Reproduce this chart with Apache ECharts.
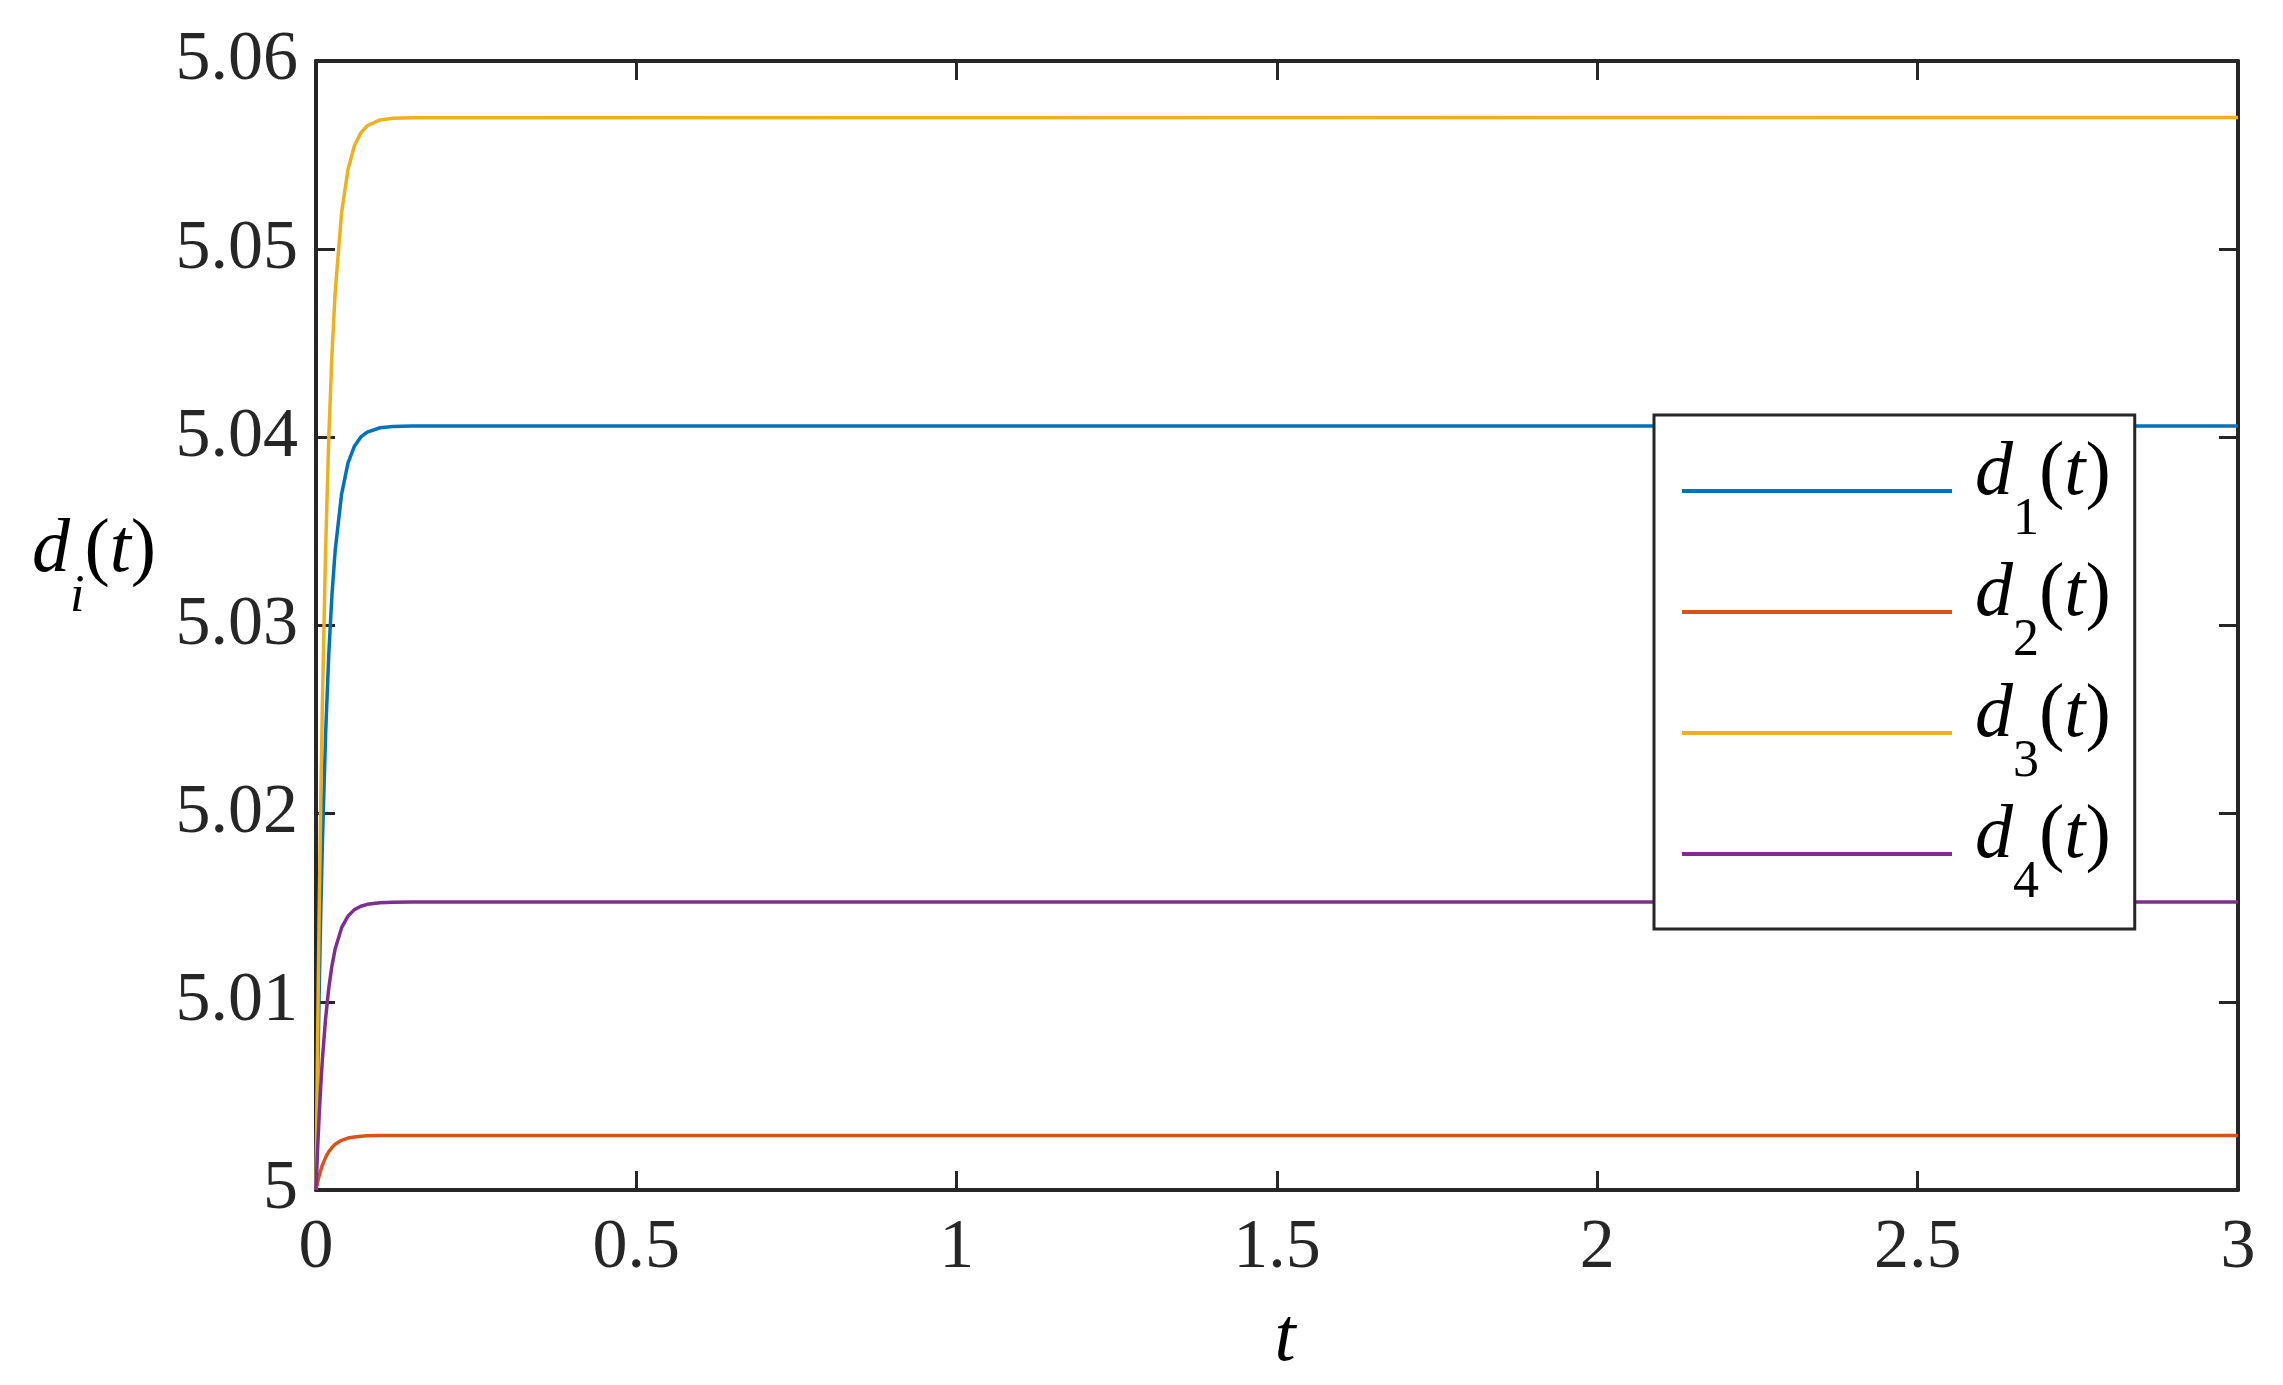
<!DOCTYPE html>
<html>
<head>
<meta charset="utf-8">
<script src="https://cdn.jsdelivr.net/npm/echarts@6/dist/echarts.min.js"></script>
<style>
html,body{margin:0;padding:0;background:#fff;}
#chart{width:2283px;height:1385px;}
</style>
</head>
<body>
<div id="chart"></div>
<script>
// time samples (t)
const tValues = [0, 0.0025, 0.005, 0.0075, 0.01, 0.015, 0.02, 0.025, 0.03, 0.04, 0.05, 0.06, 0.07, 0.08, 0.1, 0.12, 0.15, 3];
// d1(t)
const d1 = [5.0000, 5.00571, 5.01061, 5.01482, 5.01845, 5.02424, 5.02852, 5.03168, 5.03401, 5.03700, 5.03864, 5.03953, 5.04002, 5.04028, 5.04051, 5.04057, 5.04060, 5.0406];
// d2(t)
const d2 = [5.0000, 5.00041, 5.00076, 5.00106, 5.00132, 5.00173, 5.00204, 5.00226, 5.00243, 5.00264, 5.00276, 5.00282, 5.00286, 5.00288, 5.00289, 5.0029, 5.0029, 5.0029];
// d3(t)
const d3 = [5.0000, 5.00801, 5.0149, 5.02081, 5.02591, 5.03403, 5.04004, 5.04447, 5.04775, 5.05195, 5.05425, 5.0555, 5.05618, 5.05656, 5.05687, 5.05696, 5.05699, 5.057];
// d4(t)
const d4 = [5.0000, 5.00215, 5.004, 5.00558, 5.00695, 5.00913, 5.01075, 5.01194, 5.01282, 5.01394, 5.01456, 5.0149, 5.01508, 5.01518, 5.01526, 5.01529, 5.0153, 5.0153];

const seriesNames = ['d1', 'd2', 'd3', 'd4'];
const seriesSubs = ['1', '2', '3', '4'];
const seriesColors = ['#0072BD', '#D95319', '#EDB120', '#7E2F8E'];
const xTicks = [0, 0.5, 1, 1.5, 2, 2.5, 3];
const yTicks = [5, 5.01, 5.02, 5.03, 5.04, 5.05, 5.06];

const FONT = 'Liberation Serif';
const AXC = '#262626';
const FS = 70;   // tick labels
const LFS = 76;  // legend / axis names
const SFS = 52;  // subscripts

const chart = echarts.init(document.getElementById('chart'), null, {renderer: 'canvas'});

const allSeries = [d1, d2, d3, d4];
const series = allSeries.map((arr, k) => ({
  name: seriesNames[k],
  type: 'line',
  xAxisIndex: 0,
  yAxisIndex: 0,
  symbol: 'none',
  showSymbol: false,
  smooth: false,
  animation: false,
  lineStyle: {width: 3.5, color: seriesColors[k]},
  itemStyle: {color: seriesColors[k]},
  data: tValues.map((t, i) => [t, arr[i]])
}));

const richLabel = {
  it: {fontFamily: FONT, fontStyle: 'italic', fontSize: LFS, color: '#000', lineHeight: 110, verticalAlign: 'top'},
  itd: {fontFamily: FONT, fontStyle: 'italic', fontSize: LFS, color: '#000', lineHeight: 110, verticalAlign: 'top', padding: [0, 0, 0, 18]},
  n: {fontFamily: FONT, fontSize: LFS, color: '#000', lineHeight: 110, verticalAlign: 'top'},
  s: {fontFamily: FONT, fontSize: SFS, color: '#000', lineHeight: 44, verticalAlign: 'bottom'},
  si: {fontFamily: FONT, fontStyle: 'italic', fontSize: SFS, color: '#000', lineHeight: 40, verticalAlign: 'bottom'}
};

const option = {
  backgroundColor: '#fff',
  animation: false,
  grid: {left: 316, right: 45, top: 61, bottom: 195, containLabel: false},
  xAxis: [{
    type: 'value', position: 'bottom', min: 0, max: 3, interval: 0.5,
    axisLine: {show: true, onZero: false, lineStyle: {color: AXC, width: 4}},
    axisTick: {show: true, inside: true, length: 19, lineStyle: {color: AXC, width: 3}},
    axisLabel: {show: true, margin: 24, fontFamily: FONT, fontSize: FS, color: AXC,
      formatter: v => String(Math.round(v * 10) / 10)},
    splitLine: {show: false},
    name: 't', nameLocation: 'middle', nameGap: 112,
    nameTextStyle: {fontFamily: FONT, fontStyle: 'italic', fontSize: LFS, color: '#000', padding: [0, 0, 0, 16]}
  }, {
    type: 'value', position: 'top', min: 0, max: 3, interval: 0.5,
    axisLine: {show: true, onZero: false, lineStyle: {color: AXC, width: 4}},
    axisTick: {show: true, inside: true, length: 19, lineStyle: {color: AXC, width: 3}},
    axisLabel: {show: false}, splitLine: {show: false}
  }],
  yAxis: [{
    type: 'value', position: 'left', min: 5, max: 5.06, interval: 0.01,
    axisLine: {show: true, onZero: false, lineStyle: {color: AXC, width: 4}},
    axisTick: {show: true, inside: true, length: 19, lineStyle: {color: AXC, width: 3}},
    axisLabel: {show: true, margin: 18, fontFamily: FONT, fontSize: FS, color: AXC,
      formatter: v => String(Math.round(v * 100) / 100)},
    splitLine: {show: false}
  }, {
    type: 'value', position: 'right', min: 5, max: 5.06, interval: 0.01,
    axisLine: {show: true, onZero: false, lineStyle: {color: AXC, width: 4}},
    axisTick: {show: true, inside: true, length: 19, lineStyle: {color: AXC, width: 3}},
    axisLabel: {show: false}, splitLine: {show: false}
  }],
  legend: {
    show: true,
    orient: 'vertical',
    left: 1654,
    top: 415,
    padding: [21, 24, 20, 28],
    itemGap: 11,
    itemWidth: 270,
    itemHeight: 4,
    icon: 'rect',
    borderColor: AXC,
    borderWidth: 3,
    backgroundColor: '#fff',
    data: seriesNames,
    formatter: name => {
      const k = seriesNames.indexOf(name);
      return '{itd|d}{s|' + seriesSubs[k] + '}{n|(}{it|t}{n|)}';
    },
    textStyle: {rich: richLabel}
  },
  graphic: [{
    type: 'text',
    left: 32,
    top: 513,
    style: {
      text: '{it|d}{si|i}{n|(}{it|t}{n|)}',
      rich: richLabel
    }
  }],
  series: series
};

chart.setOption(option);
</script>
</body>
</html>
